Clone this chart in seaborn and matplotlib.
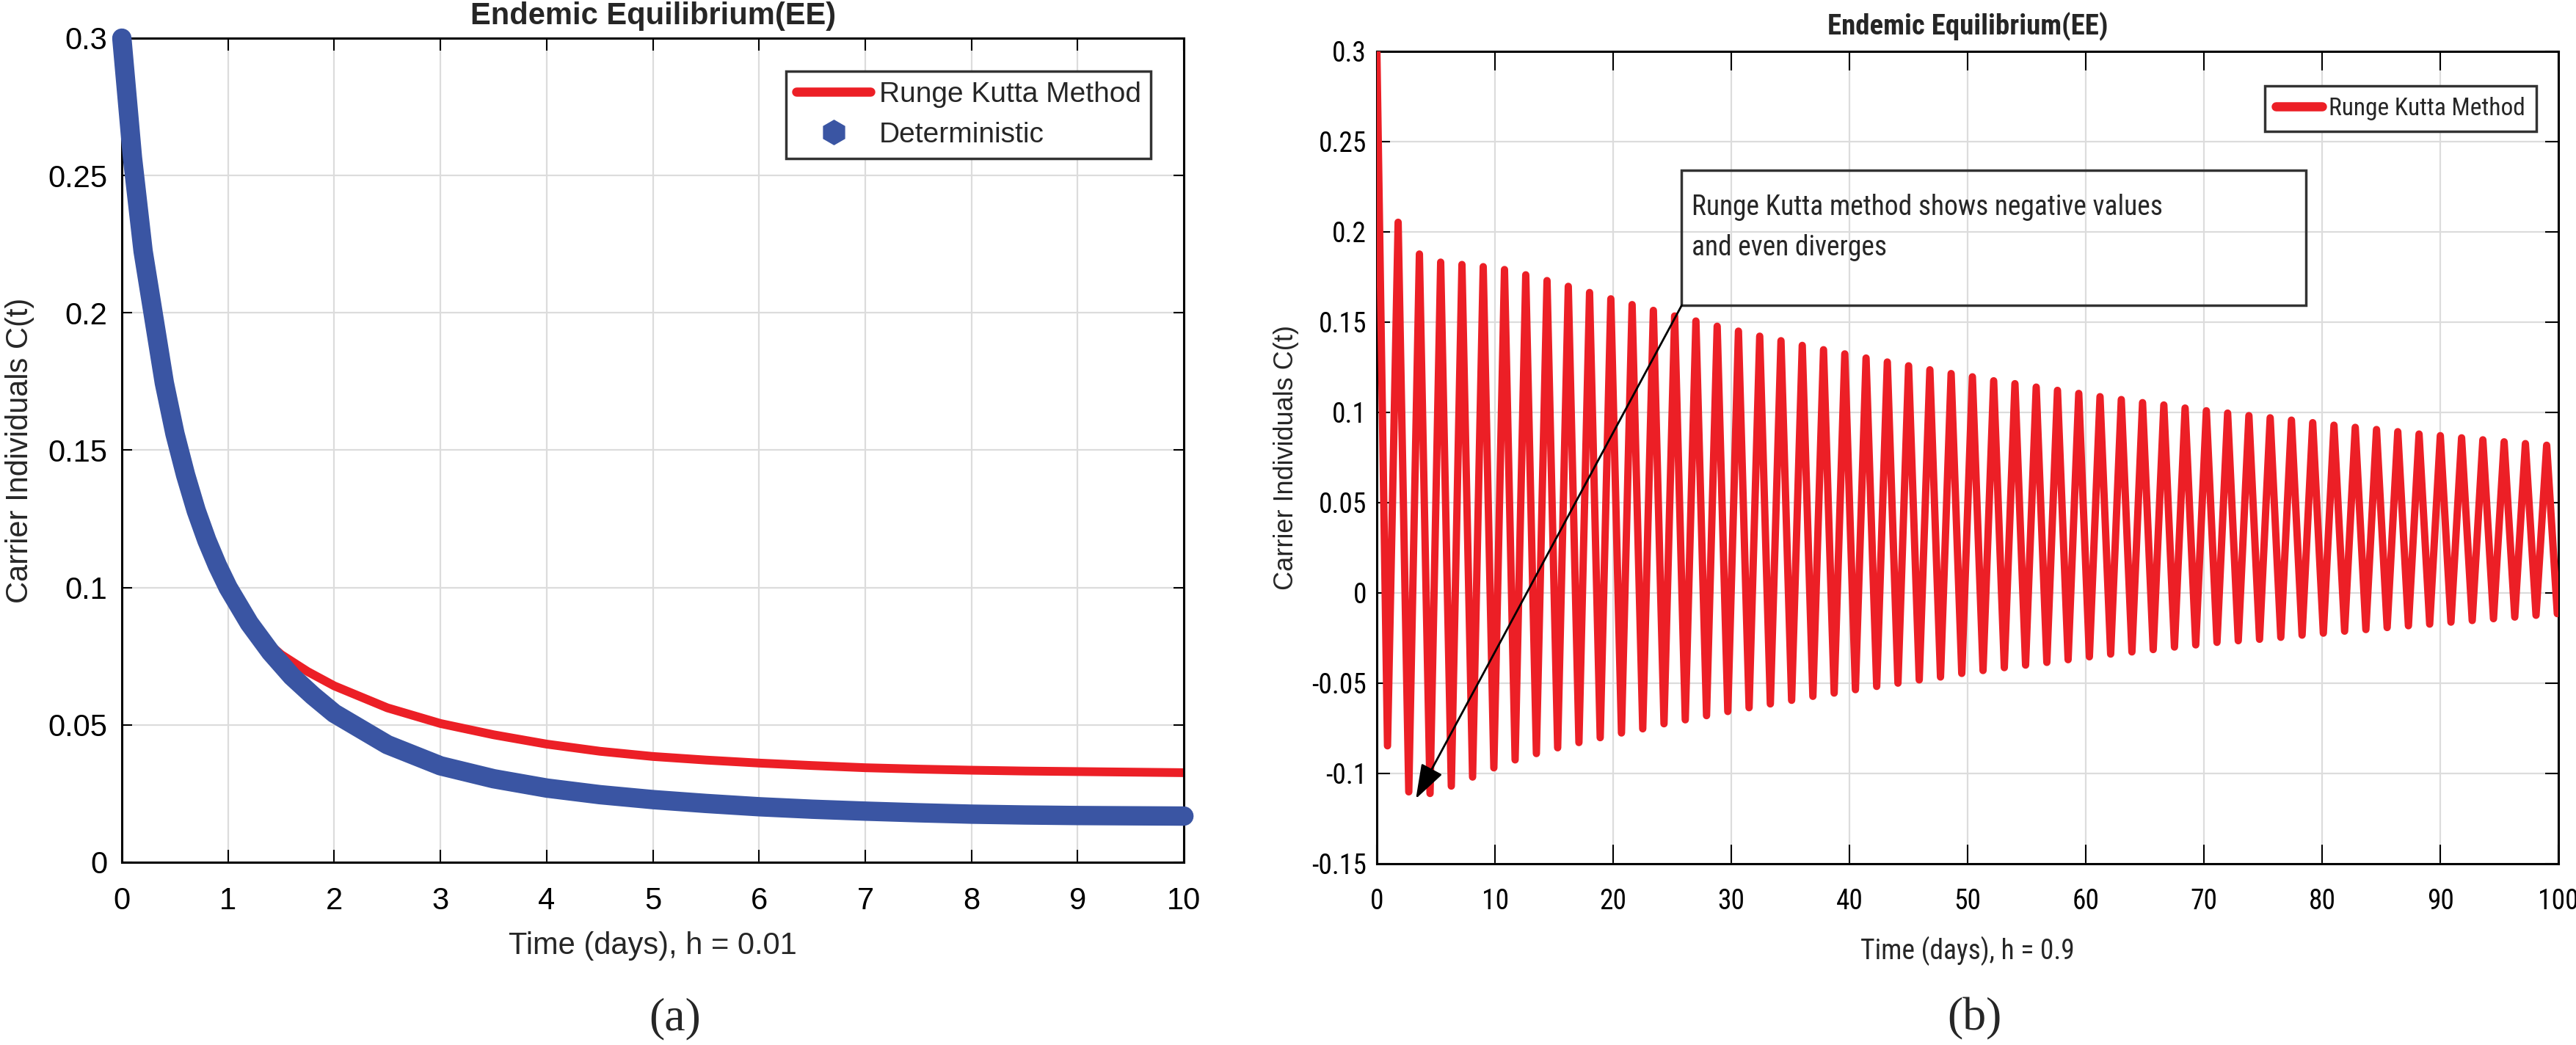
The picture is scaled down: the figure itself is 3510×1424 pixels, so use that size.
import numpy as np
import matplotlib
matplotlib.use("Agg")
import matplotlib.pyplot as plt
from matplotlib.lines import Line2D
from matplotlib.patches import Rectangle
import seaborn as sns

# ------------------------------
# data
# ------------------------------
# (a) h = 0.01, 0..10 days
det_t = [0, 0.1, 0.2, 0.3, 0.4, 0.5, 0.6, 0.7, 0.8, 0.9, 1.0, 1.2, 1.4, 1.6,
         1.8, 2.0, 2.5, 3.0, 3.5, 4.0, 4.5, 5.0, 5.5, 6.0, 6.5, 7.0, 7.5, 8.0,
         8.5, 9.0, 9.5, 10.0]
det_c = [0.300, 0.2565, 0.2225, 0.1985, 0.1745, 0.1560, 0.1410, 0.1280, 0.1172,
         0.1080, 0.1000, 0.0870, 0.0765, 0.0677, 0.0606, 0.0542, 0.0428, 0.0351,
         0.0304, 0.0270, 0.0246, 0.0228, 0.0214, 0.0202, 0.0193, 0.0186, 0.0180,
         0.0175, 0.0172, 0.0170, 0.0169, 0.0168]

rk_t_a = [0, 0.1, 0.2, 0.3, 0.4, 0.5, 0.6, 0.7, 0.8, 0.9, 1.0, 1.2, 1.4, 1.5,
          1.75, 2.0, 2.5, 3.0, 3.5, 4.0, 4.5, 5.0, 5.5, 6.0, 6.5, 7.0, 7.5, 8.0,
          8.5, 9.0, 9.5, 10.0]
rk_c_a = [0.300, 0.2565, 0.2225, 0.1985, 0.1745, 0.1560, 0.1410, 0.1280, 0.1172,
          0.1080, 0.1000, 0.0875, 0.0790, 0.0756, 0.0694, 0.0642, 0.0562, 0.0505,
          0.0464, 0.0430, 0.0404, 0.0385, 0.0372, 0.0361, 0.0352, 0.0344, 0.0339,
          0.0335, 0.0332, 0.0330, 0.0328, 0.0326]

# (b) h = 0.9, 0..100 days, alternating steps
step_b = 0.9
rk_start_b = 0.3
rk_peaks_b = [0.2053, 0.1877, 0.1832, 0.1819, 0.1807, 0.1791, 0.1762, 0.1730,
              0.1698, 0.1664, 0.1629, 0.1597, 0.1565, 0.1534, 0.1506, 0.1477,
              0.1450, 0.1422, 0.1397, 0.1371, 0.1347, 0.1324, 0.1301,
              0.1279, 0.1258, 0.1236, 0.1215, 0.1197, 0.1175, 0.1159, 0.1140,
              0.1122, 0.1105, 0.1087, 0.1071, 0.1054, 0.1041, 0.1024, 0.1009,
              0.0996, 0.0982, 0.0970, 0.0957, 0.0943, 0.0929, 0.0917, 0.0905,
              0.0893, 0.0880, 0.0871, 0.0859, 0.0848, 0.0837, 0.0827, 0.0818]
rk_troughs_b = [-0.0847, -0.1102, -0.1111, -0.1070, -0.1020, -0.0969, -0.0925,
                -0.0890, -0.0858, -0.0829, -0.0802, -0.0776, -0.0753, -0.0725,
                -0.0703, -0.0680, -0.0657, -0.0636, -0.0615, -0.0595, -0.0573,
                -0.0555, -0.0536, -0.0518, -0.0500, -0.0482, -0.0466,
                -0.0446, -0.0430, -0.0414, -0.0400, -0.0385, -0.0370, -0.0354,
                -0.0339, -0.0327, -0.0314, -0.0300, -0.0288, -0.0274, -0.0265,
                -0.0257, -0.0246, -0.0234, -0.0223, -0.0212, -0.0203, -0.0192,
                -0.0182, -0.0173, -0.0162, -0.0153, -0.0143, -0.0134, -0.0124,
                -0.0115]

xticks_a = list(range(0, 11))
yticks_a = [0, 0.05, 0.1, 0.15, 0.2, 0.25, 0.3]
ylabels_a = ["0", "0.05", "0.1", "0.15", "0.2", "0.25", "0.3"]
xticks_b = list(range(0, 101, 10))
yticks_b = [-0.15, -0.1, -0.05, 0, 0.05, 0.1, 0.15, 0.2, 0.25, 0.3]
ylabels_b = ["-0.15", "-0.1", "-0.05", "0", "0.05", "0.1", "0.15", "0.2", "0.25", "0.3"]

c_b = np.empty(1 + len(rk_peaks_b) + len(rk_troughs_b))
c_b[0] = rk_start_b
c_b[1::2] = rk_troughs_b
c_b[2::2] = rk_peaks_b
time_b = np.round(np.arange(len(c_b)) * step_b, 2)

# ------------------------------
# style
# ------------------------------
sns.set_theme(style="ticks")
plt.rcParams["font.family"] = ["Liberation Sans", "DejaVu Sans"]
NARROW = ["Roboto Condensed", "Liberation Sans", "DejaVu Sans"]
RED = "#EC1F26"
BLUE = "#3A55A3"
GRID = "#dcdcdc"

fig = plt.figure(figsize=(35.1, 14.24), dpi=100)
ax1 = fig.add_axes([0.0473, 0.1749, 0.4123, 0.7886])
ax2 = fig.add_axes([0.5345, 0.1735, 0.4587, 0.7774])

# ==============================
# (a)
# ==============================
sns.lineplot(x=rk_t_a, y=rk_c_a, ax=ax1, color=RED, linewidth=8.6,
             solid_capstyle="butt", zorder=2)
sns.lineplot(x=det_t, y=det_c, ax=ax1, color=BLUE, linewidth=19,
             solid_capstyle="round", solid_joinstyle="round", clip_on=False, zorder=3)

ax1.set_xlim(0, 10)
ax1.set_ylim(0, 0.3)
ax1.set_xticks(xticks_a)
ax1.set_yticks(yticks_a)
ax1.set_yticklabels(ylabels_a)
ax1.tick_params(axis="x", direction="in", length=12, width=1.5, pad=24,
                top=True, labelsize=30, colors="black")
ax1.tick_params(axis="y", direction="in", length=10, width=1.5, pad=14,
                right=True, labelsize=30, colors="black")
ax1.set_title("Endemic Equilibrium(EE)", fontsize=30, fontweight="bold", pad=14)
ax1.set_xlabel("Time (days), h = 0.01", fontsize=30)
ax1.set_ylabel("Carrier Individuals C(t)", fontsize=30)
ax1.xaxis.set_label_coords(0.5, -0.084)
ax1.yaxis.set_label_coords(-0.082, 0.5)

h_rk = Line2D([], [], color=RED, lw=9)
h_det = Line2D([], [], color=BLUE, ls="none", marker="h", markersize=24)
leg1 = ax1.legend([h_rk, h_det], ["Runge Kutta Method", "Deterministic"],
                  loc="upper right", bbox_to_anchor=(0.969, 0.96), borderaxespad=0,
                  fontsize=28, handlelength=2.6, handletextpad=0.3, borderpad=0.35,
                  labelspacing=0.5, frameon=True, fancybox=False,
                  edgecolor="#333333", framealpha=1)
leg1.get_frame().set_linewidth(2.5)

# ==============================
# (b)
# ==============================
sns.lineplot(x=time_b, y=c_b, ax=ax2, color=RED, linewidth=7.2,
             solid_joinstyle="round", solid_capstyle="round", zorder=3)

ax2.set_xlim(0, 100)
ax2.set_ylim(-0.15, 0.3)
ax2.set_xticks(xticks_b)
ax2.set_yticks(yticks_b)
ax2.set_yticklabels(ylabels_b)
ax2.tick_params(axis="x", direction="in", length=19, width=1.5, pad=24,
                top=True, labelsize=27, colors="black")
ax2.tick_params(axis="y", direction="in", length=13, width=1.5, pad=10,
                right=True, labelsize=27, colors="black")
for lbl in ax2.get_xticklabels() + ax2.get_yticklabels():
    lbl.set_family(NARROW)
ax2.set_title("Endemic Equilibrium(EE)", fontsize=28, fontweight="bold", pad=16,
              family=NARROW)
ax2.set_xlabel("Time (days), h = 0.9", fontsize=27, family=NARROW)
ax2.set_ylabel("Carrier Individuals C(t)", fontsize=26)
ax2.xaxis.set_label_coords(0.5, -0.089)
ax2.yaxis.set_label_coords(-0.066, 0.5)

h_rk2 = Line2D([], [], color=RED, lw=9)
leg2 = ax2.legend([h_rk2], ["Runge Kutta Method"], loc="upper right",
                  bbox_to_anchor=(0.981, 0.9575), borderaxespad=0,
                  prop={"family": NARROW, "size": 24}, handlelength=1.9,
                  handletextpad=0.25, borderpad=0.45, frameon=True, fancybox=False,
                  edgecolor="#333333", framealpha=1)
leg2.get_frame().set_linewidth(2.5)

# annotation box + arrow
ax2.add_patch(Rectangle((25.8, 0.1593), 52.8, 0.0748, fill=False,
                        edgecolor="#333333", linewidth=2.5, zorder=5))
ax2.text(26.65, 0.2024, "Runge Kutta method shows negative values\nand even diverges",
         fontsize=27, family=NARROW, va="center", ha="left", linespacing=1.65,
         zorder=6)
ax2.annotate("", xy=(3.3, -0.114), xytext=(25.8, 0.1593),
             arrowprops=dict(arrowstyle="-|>,head_length=1.45,head_width=0.5",
                             mutation_scale=20, color="black", lw=2,
                             shrinkA=0, shrinkB=0), zorder=6)

for ax in (ax1, ax2):
    ax.grid(True, color=GRID, linewidth=1.6)
    ax.set_axisbelow(True)
    for sp in ax.spines.values():
        sp.set_visible(True)
        sp.set_color("black")
        sp.set_linewidth(2.2)

fig.text(0.262, 0.0253, "(a)", family="Liberation Serif", fontsize=46,
         ha="center", va="center")
fig.text(0.7664, 0.0253, "(b)", family="Liberation Serif", fontsize=46,
         ha="center", va="center")

fig.savefig("out.png", dpi=100)
plt.close(fig)
